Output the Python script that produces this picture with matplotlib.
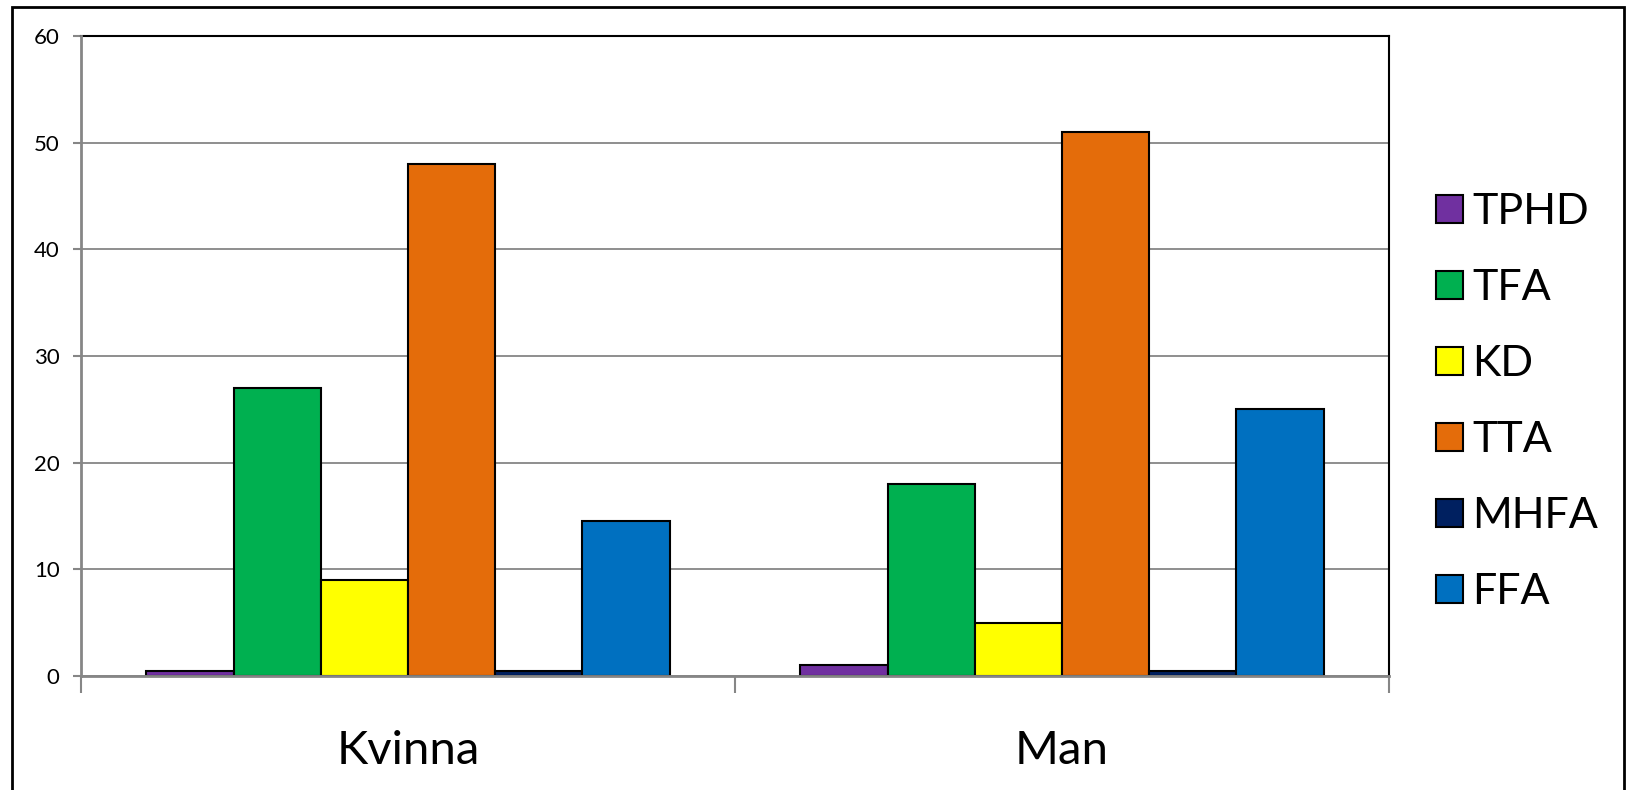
import numpy as np
import matplotlib.pyplot as plt
from matplotlib.patches import Rectangle

plt.rcParams['font.family'] = ['Lato', 'DejaVu Sans']

groups = ['Kvinna', 'Man']
series = ['TPHD', 'TFA', 'KD', 'TTA', 'MHFA', 'FFA']
colors = ['#7030A0', '#00B050', '#FFFF00', '#E46C0A', '#002060', '#0070C0']
values = {
    'TPHD': [0.5, 1],
    'TFA': [27, 18],
    'KD': [9, 5],
    'TTA': [48, 51],
    'MHFA': [0.5, 0.5],
    'FFA': [14.5, 25],
}

grey = '#868686'

fig = plt.figure(figsize=(16.28, 7.9), dpi=100)
ax = fig.add_axes([81 / 1628, 114 / 790, (1389 - 81) / 1628, (676 - 36) / 790])

x = np.arange(len(groups))
w = 1 / (len(series) + 1.5)
for i, (name, col) in enumerate(zip(series, colors)):
    ax.bar(x + (i - 2.5) * w, values[name], w, color=col, edgecolor='black',
           linewidth=1.5, label=name, zorder=3)

ax.set_xlim(-0.5, 1.5)
ax.set_ylim(0, 60)
ax.set_yticks(range(0, 61, 10))
ax.yaxis.grid(True, color=grey, linewidth=1.3, zorder=0)

ax.set_xticks(x)
ax.set_xticklabels(groups, fontsize=34)
ax.set_xticks([-0.5, 0.5, 1.5], minor=True)
ax.tick_params(axis='x', which='major', length=0, pad=39)
ax.tick_params(axis='x', which='minor', length=12, width=1.5, color=grey)
ax.tick_params(axis='y', length=6, width=1.5, color=grey, labelsize=16, pad=9.5)

for side in ['top', 'right']:
    ax.spines[side].set_color('black')
    ax.spines[side].set_linewidth(1.5)
for side in ['left', 'bottom']:
    ax.spines[side].set_color(grey)
    ax.spines[side].set_linewidth(2)
    ax.spines[side].set_zorder(4)

fig.legend(loc='center left', bbox_to_anchor=(1436 / 1628, 1 - 402 / 790),
           frameon=False, fontsize=31, handlelength=0.62, handleheight=0.62,
           handletextpad=0.22, labelspacing=0.88, borderpad=0, borderaxespad=0)

# chart frame
fig.patches.append(Rectangle((12 / 1628, -0.05), (1624 - 12) / 1628, 1.05 - 7 / 790,
                             transform=fig.transFigure, fill=False,
                             edgecolor='black', linewidth=2))

fig.savefig('out.png', dpi=100)
